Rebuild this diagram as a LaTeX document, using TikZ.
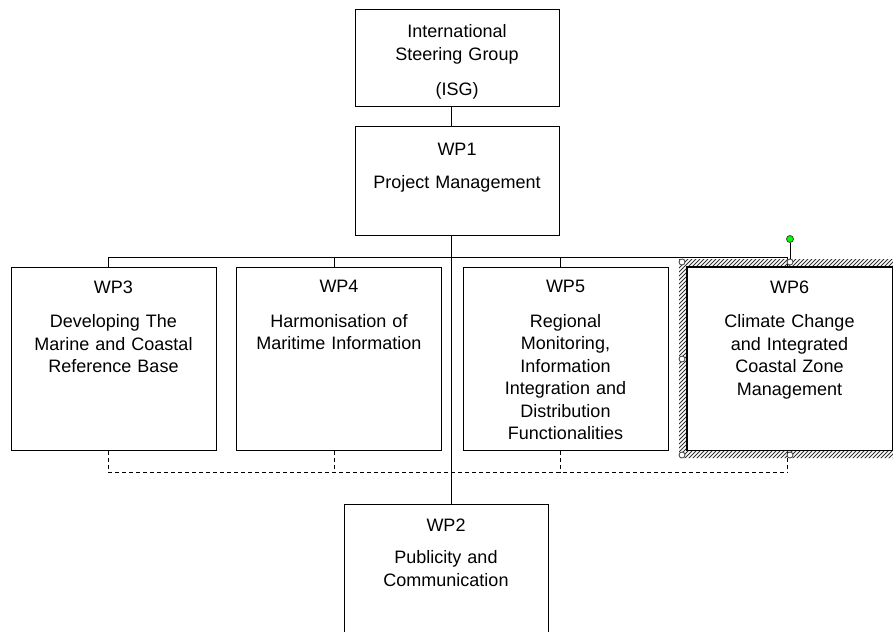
\documentclass[tikz,border=0pt]{standalone}
\usepackage{fontspec}
\setmainfont{Liberation Sans}
\usepackage{tikz}
\usetikzlibrary{positioning}

\begin{document}
\begin{tikzpicture}[x=1pt,y=-1pt,line width=1pt]

% Stili per i riquadri
\tikzset{wpbox/.style={draw, rectangle, inner sep=0pt, minimum width=205pt, minimum height=183pt},
         wptext/.style={inner sep=0pt, text width=200pt, align=center, font=\fontsize{18}{22.5}\selectfont},
         linkdash/.style={dash pattern=on 4pt off 3pt},
         handle/.style={circle, draw=black!75, fill=white, line width=0.8pt, inner sep=0pt, minimum size=6pt}}

\useasboundingbox (0,0) rectangle (893,631);
\clip (0,0) rectangle (893,631);

% --- Parte superiore: ISG e WP1 ---
\node[wpbox, minimum width=204pt, minimum height=97pt] (isg) at (457,58.5) {};
\node[wptext, below=14.5pt of isg.north] (isgt) {International\\Steering Group\\[13pt](ISG)};

\node[wpbox, minimum width=204pt, minimum height=108pt] (wp1) at (457,181) {};
\node[wptext, below=16.5pt of wp1.north] (wp1t) {WP1\\[10pt]Project Management};

% --- Riquadri dei work package ---
\node[wpbox] (wp3) at (113.5,358.5) {};
\node[wpbox] (wp4) at (339,358.5) {};
\node[wpbox] (wp5) at (565.5,358.5) {};
\node[wpbox] (wp6) at (789.5,358.5) {};

\node[wptext, below=13.5pt of wp3.north] (wp3t) {WP3\\[12pt]Developing The\\Marine and Coastal\\Reference Base};
\node[wptext, below=13.5pt of wp4.north] (wp4t) {WP4\\[12pt]Harmonisation of\\Maritime Information};
\node[wptext, below=13.5pt of wp5.north] (wp5t) {WP5\\[12pt]Regional\\Monitoring,\\Information\\Integration and\\Distribution\\Functionalities};
\node[wptext, below=13.5pt of wp6.north] (wp6t) {WP6\\[12pt]Climate Change\\and Integrated\\Coastal Zone\\Management};

% WP2 in basso (tagliato dal bordo)
\node[wpbox, minimum width=204pt, minimum height=160pt] (wp2) at (446,584) {};
\node[wptext, below=14.5pt of wp2.north] (wp2t) {WP2\\[10pt]Publicity and\\Communication};

% --- Collegamenti ---
\coordinate (trunk) at (451,257);
\draw (isg.south -| trunk) -- (wp1.north -| trunk);
\draw (wp1.south -| trunk) -- (wp2.north -| trunk);

\foreach \n/\cx in {wp3/108, wp4/334, wp5/560, wp6/787} {
  \coordinate (b\n) at (\cx,257);
  \coordinate (d\n) at (\cx,472);
  \draw (b\n) -- (b\n |- \n.north);
  \draw[linkdash] (\n.south -| d\n) -- (d\n);
}
\draw (bwp3) -- (bwp6);
\draw[linkdash] (dwp3) -- (dwp6);

% Cornice di selezione attorno a WP6
\begin{scope}[even odd rule]
  \clip (679,259) rectangle (901,458) (wp6.north west) rectangle (wp6.south east);
  \foreach \k in {479,483,...,903}
    \draw[line width=0.8pt, black!80] (\k,460) -- ++(203,-203);
\end{scope}
\draw (wp6.north west) rectangle (wp6.south east);

\node[handle] (h1) at (682,262) {};
\node[handle] (h2) at (790,262) {};
\node[handle] (h3) at (682,359) {};
\node[handle] (h4) at (682,455) {};
\node[handle] (h5) at (790,455) {};
\node[handle, fill=green, minimum size=7pt] (rot) at (790,239) {};
\draw[line width=0.8pt] (rot) -- (h2);
\end{tikzpicture}
\end{document}
